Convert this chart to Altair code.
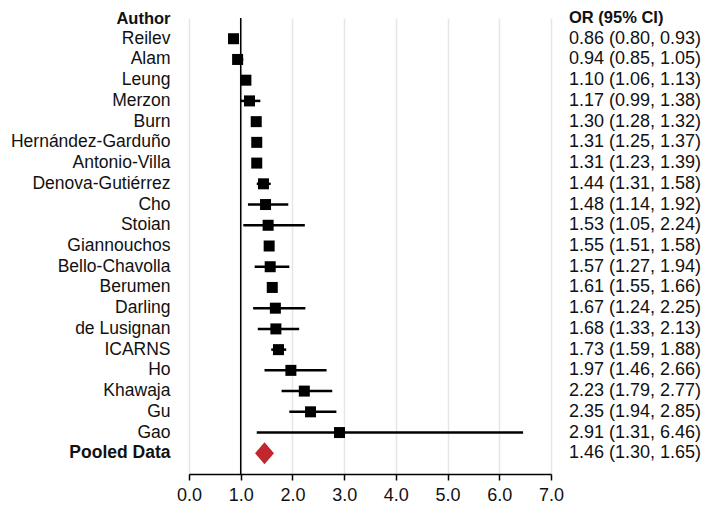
import altair as alt
import pandas as pd

authors = ["Reilev", "Alam", "Leung", "Merzon", "Burn", "Hernández-Garduño",
           "Antonio-Villa", "Denova-Gutiérrez", "Cho", "Stoian", "Giannouchos",
           "Bello-Chavolla", "Berumen", "Darling", "de Lusignan", "ICARNS", "Ho",
           "Khawaja", "Gu", "Gao", "Pooled Data"]
odds = [0.86, 0.94, 1.10, 1.17, 1.30, 1.31, 1.31, 1.44, 1.48, 1.53, 1.55,
        1.57, 1.61, 1.67, 1.68, 1.73, 1.97, 2.23, 2.35, 2.91, 1.46]
lower = [0.80, 0.85, 1.06, 0.99, 1.28, 1.25, 1.23, 1.31, 1.14, 1.05, 1.51,
         1.27, 1.55, 1.24, 1.33, 1.59, 1.46, 1.79, 1.94, 1.31, 1.30]
upper = [0.93, 1.05, 1.13, 1.38, 1.32, 1.37, 1.39, 1.58, 1.92, 2.24, 1.58,
         1.94, 1.66, 2.25, 2.13, 1.88, 2.66, 2.77, 2.85, 6.46, 1.65]
x_ticks = [0, 1, 2, 3, 4, 5, 6, 7]

df = pd.DataFrame({"author": authors, "or": odds, "lo": lower, "hi": upper})
df["label"] = [f"{o:.2f} ({l:.2f}, {h:.2f})" for o, l, h in zip(odds, lower, upper)]
df["kind"] = ["study"] * (len(authors) - 1) + ["pooled"]
studies = df[df["kind"] == "study"]
pooled = df[df["kind"] == "pooled"]

W, H = 362, 456
FONT = "Liberation Sans"
HEADER_Y = 5

yenc = alt.Y(
    "author:N", sort=authors,
    scale=alt.Scale(paddingInner=0, paddingOuter=0.5),
    axis=alt.Axis(
        title="Author", titleAngle=0, titleAlign="right", titleBaseline="alphabetic",
        titleX=-19, titleY=HEADER_Y, titleFontSize=16.5, titleFontWeight="bold",
        titleColor="#111", labelFontSize=17.5, labelPadding=19, ticks=False,
        domain=False, grid=False, labelColor="#111", labelLimit=300,
        labelFontWeight=alt.ExprRef(expr="datum.value == 'Pooled Data' ? 'bold' : 'normal'"),
    ),
)

xscale = alt.Scale(domain=[0, 7], nice=False)
xaxis = alt.Axis(
    values=x_ticks, format=".1f", title=None, grid=True, gridColor="#e6e6e6",
    gridWidth=1.5, domainColor="black", domainWidth=1.5, tickColor="black",
    tickSize=6, tickWidth=1.5, labelFontSize=18, labelPadding=6, labelColor="#111",
    labelFlush=False, labelBound=False,
)

ci = alt.Chart(studies).mark_rule(color="black", strokeWidth=2.5).encode(
    x=alt.X("lo:Q", scale=xscale, axis=xaxis), x2="hi:Q", y=yenc)

ref = alt.Chart(pd.DataFrame({"ref": [1.0]})).mark_rule(
    color="black", strokeWidth=1.5).encode(x=alt.X("ref:Q", scale=xscale))

squares = alt.Chart(studies).mark_square(size=121, color="black", opacity=1).encode(
    x=alt.X("or:Q", scale=xscale), y=yenc)

diamond = alt.Chart(pooled).mark_point(
    shape="M-0.86,0L0,-1L0.86,0L0,1Z", filled=True, size=484,
    color="#c1272d", opacity=1).encode(x=alt.X("or:Q", scale=xscale), y=yenc)

or_text = alt.Chart(df).mark_text(
    align="left", baseline="middle", fontSize=18, color="#111").encode(
    x=alt.value(W + 18), y=yenc, text="label:N")

header = alt.Chart(pd.DataFrame({"h": ["OR (95% CI)"]})).mark_text(
    align="left", baseline="alphabetic", fontSize=16.5, fontWeight="bold",
    color="#111").encode(x=alt.value(W + 18), y=alt.value(HEADER_Y), text="h:N")

chart = alt.layer(ci, ref, squares, diamond, or_text, header).properties(
    width=W, height=H,
    autosize=alt.AutoSizeParams(type="none"),
    padding={"left": 181, "top": 10, "right": 150, "bottom": 32},
).configure(font=FONT).configure_view(stroke=None)

chart.save("out.html", embed_options={"renderer": "svg", "actions": False})
